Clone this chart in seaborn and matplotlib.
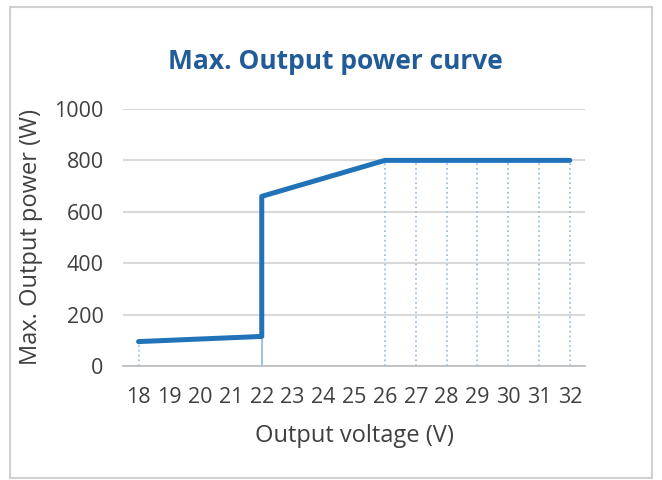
import matplotlib
matplotlib.use('Agg')
import matplotlib.pyplot as plt
import seaborn as sns
import pandas as pd
from matplotlib.patches import Rectangle
from matplotlib.ticker import MultipleLocator

# punkty krzywej mocy maksymalnej
voltage = [18, 22, 22, 26, 27, 28, 29, 30, 31, 32]
power = [95, 115, 660, 800, 800, 800, 800, 800, 800, 800]
x_ticks = list(range(18, 33))
y_ticks = [0, 200, 400, 600, 800, 1000]

df = pd.DataFrame({'napiecie': voltage, 'moc': power})

sns.set_theme(style='white')
plt.rcParams['font.family'] = ['Open Sans', 'DejaVu Sans']

fig = plt.figure(figsize=(6.62, 4.8), dpi=100)
ax = fig.add_axes([0.186, 0.2375, 0.698, 0.5355])

# linie pionowe od punktów do osi
for x, y in zip(voltage, power):
    dup = voltage.count(x) > 1
    ax.vlines(x, 0, min(p for v, p in zip(voltage, power) if v == x),
              colors='#9DC3E6', linestyles='-' if dup else ':', linewidth=1.3, zorder=1)

sns.lineplot(data=df, x='napiecie', y='moc', sort=False, estimator=None,
             color='#2272B9', linewidth=3.6, ax=ax, zorder=3)

ax.set_xlim(17.5, 32.5)
ax.set_ylim(0, 1000)
ax.set_xticks(x_ticks)
ax.xaxis.set_minor_locator(MultipleLocator(1, offset=0.5))
ax.set_yticks(y_ticks)
ax.yaxis.grid(True, color='#D9D9D9', linewidth=1.5)
ax.set_axisbelow(True)
for s in ['top', 'right', 'left']:
    ax.spines[s].set_visible(False)
ax.spines['bottom'].set_color('#BFBFBF')
ax.spines['bottom'].set_linewidth(1.3)
ax.tick_params(axis='x', which='major', length=0, pad=15, labelsize=15.5, labelcolor='#404040')
ax.tick_params(axis='x', which='minor', length=6, width=1.3, color='#BFBFBF', direction='out')
ax.tick_params(axis='y', length=0, pad=14, labelsize=15.5, labelcolor='#404040')

ax.set_xlabel('Output voltage (V)', fontsize=17, color='#404040', labelpad=12)
ax.set_ylabel('Max. Output power (W)', fontsize=17, color='#404040', labelpad=8)
fig.text(0.506, 0.872, 'Max. Output power curve', ha='center', va='center',
         fontsize=19, fontweight='bold', color='#215C98')

fig.patches.append(Rectangle((0.015, 0.004), 0.97, 0.982, transform=fig.transFigure,
                             fill=False, edgecolor='#D0D0D0', linewidth=1.5))

fig.savefig('out.png', dpi=100)
